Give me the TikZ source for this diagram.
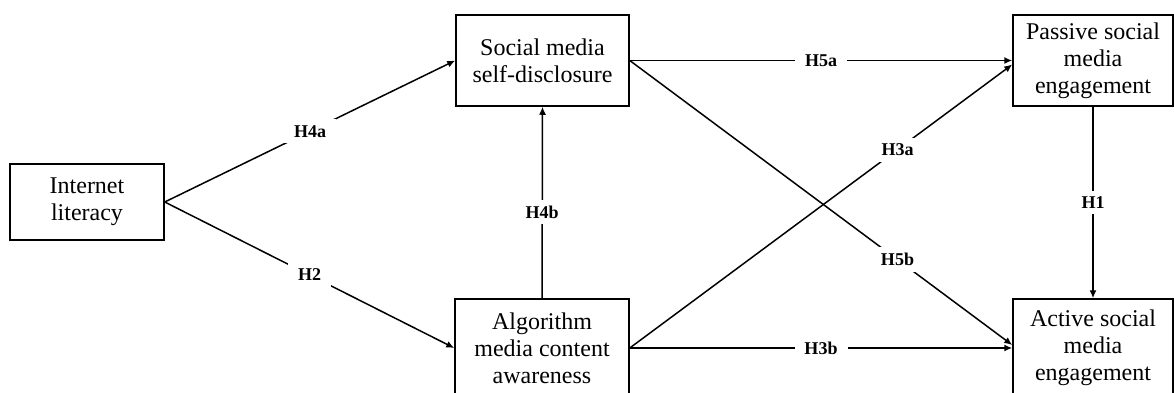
\documentclass[tikz,border=0pt]{standalone}
\usepackage{fontspec}
\setmainfont{Liberation Serif}
\usetikzlibrary{arrows.meta}
\tikzset{
  construct/.style={draw, line width=0.75pt, align=center, inner sep=0pt,
    font=\fontsize{12}{13.5}\selectfont},
  hyp/.style={fill=white, inner xsep=5pt, inner ysep=3pt,
    font=\fontsize{9}{10}\selectfont\bfseries},
  link/.style={line width=0.75pt, -{Latex[length=4pt, width=3.5pt]}}
}
\begin{document}
\begin{tikzpicture}[x=0.5pt, y=-0.5pt]
	\useasboundingbox (0,0) rectangle (1174,392);
	\node[construct, minimum width=77pt, minimum height=38pt] (internet) at (87,202) {Internet\\literacy};
	\node[construct, minimum width=86.5pt, minimum height=45.5pt] (social) at (542.5,60.5) {Social media\\self-disclosure};
	\node[construct, minimum width=87pt, minimum height=49pt] (algo) at (542,348) {Algorithm\\media content\\awareness};
	\node[construct, minimum width=80pt, minimum height=45.5pt] (passive) at (1093,60.5) {Passive social\\media\\engagement};
	\node[construct, minimum width=80pt, minimum height=49pt] (active) at (1093,348) {Active social\\media\\engagement};
	\draw[link] (internet.east) -- node[hyp]{H4a} (social.west);
	\draw[link] (internet.east) -- node[hyp]{H2} (algo.west);
	\draw[link] (algo.north) -- node[hyp, pos=.45]{H4b} (social.south);
	\draw[link] (social.east) -- node[hyp]{H5a} (passive.west);
	\draw[link] (social.east) -- node[hyp, pos=.7]{H5b} ([yshift=1.5pt]active.west);
	\draw[link] (algo.east) -- node[hyp, pos=.7]{H3a} ([yshift=-2pt]passive.west);
	\draw[link] (algo.east) -- node[hyp]{H3b} (active.west);
	\draw[link] (passive.south) -- node[hyp]{H1} (active.north);
\end{tikzpicture}
\end{document}
